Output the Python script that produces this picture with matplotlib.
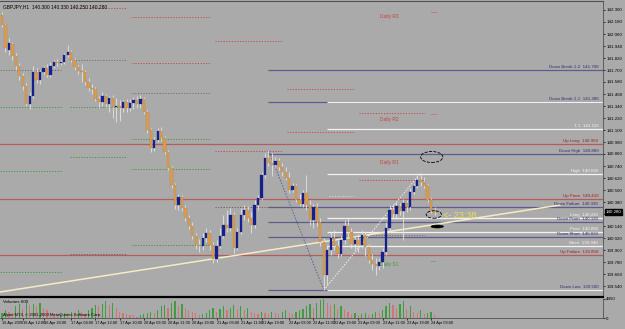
import matplotlib
matplotlib.use("Agg")
import matplotlib.pyplot as plt
from matplotlib.patches import Ellipse
import matplotlib.transforms as mtransforms
import numpy as np

plt.rcParams["font.family"] = ["Liberation Sans", "DejaVu Sans"]

# GBPJPY H1 bars (16 Apr 2009 -> 24 Apr 2009)
opens = [142.25, 142.15, 141.90, 141.96, 141.84, 141.74, 141.64, 141.54, 141.36, 141.44,
         141.68, 141.60, 141.68, 141.72, 141.65, 141.74, 141.78, 141.77, 141.78, 141.85,
         141.88, 141.80, 141.73, 141.69, 141.68, 141.58, 141.52, 141.51, 141.41, 141.38,
         141.44, 141.36, 141.42, 141.33, 141.34, 141.32, 141.38, 141.32, 141.37, 141.40,
         141.36, 141.41, 141.28, 141.10, 140.92, 141.00, 141.09, 141.02, 140.88, 140.72,
         140.55, 140.35, 140.43, 140.32, 140.22, 140.14, 140.04, 139.95, 139.94, 140.02,
         140.07, 139.95, 139.81, 139.94, 140.04, 140.15, 140.12, 140.25, 139.92, 140.08,
         140.25, 140.30, 140.22, 140.15, 140.35, 140.42, 140.65, 140.82, 140.77, 140.75,
         140.79, 140.73, 140.68, 140.62, 140.50, 140.54, 140.40, 140.36, 140.47, 140.35,
         140.20, 140.33, 140.18, 139.98, 139.65, 139.90, 140.02, 139.94, 139.86, 140.00,
         140.14, 140.08, 139.96, 140.00, 139.95, 140.05, 139.93, 139.80, 139.76, 139.74,
         139.78, 139.88, 140.12, 140.30, 140.26, 140.34, 140.29, 140.37, 140.33, 140.48,
         140.54, 140.60, 140.58, 140.54, 140.40, 140.30]
highs = [142.28, 142.16, 142.02, 141.98, 141.87, 141.77, 141.67, 141.57, 141.48, 141.74,
         141.72, 141.70, 141.74, 141.76, 141.78, 141.80, 141.81, 141.80, 141.87, 141.95,
         141.90, 141.82, 141.75, 141.76, 141.70, 141.62, 141.56, 141.53, 141.44, 141.48,
         141.46, 141.44, 141.45, 141.42, 141.40, 141.40, 141.41, 141.41, 141.43, 141.44,
         141.45, 141.43, 141.30, 141.12, 141.03, 141.12, 141.13, 141.04, 140.90, 140.74,
         140.57, 140.46, 140.45, 140.35, 140.25, 140.18, 140.07, 140.01, 140.07, 140.12,
         140.10, 139.98, 140.00, 140.12, 140.25, 140.30, 140.32, 140.28, 140.12, 140.32,
         140.35, 140.34, 140.28, 140.40, 140.45, 140.68, 140.87, 140.90, 140.87, 140.83,
         140.82, 140.77, 140.73, 140.68, 140.57, 140.56, 140.46, 140.50, 140.65, 140.40,
         140.36, 140.37, 140.22, 140.02, 139.95, 140.08, 140.10, 140.00, 140.04, 140.20,
         140.22, 140.12, 140.04, 140.06, 140.10, 140.08, 139.96, 139.86, 139.82, 139.82,
         139.92, 140.18, 140.35, 140.36, 140.38, 140.37, 140.41, 140.40, 140.52, 140.57,
         140.64, 140.67, 140.63, 140.56, 140.42, 140.33]
lows = [142.13, 141.88, 141.85, 141.80, 141.70, 141.60, 141.50, 141.34, 141.31, 141.42,
        141.57, 141.56, 141.66, 141.63, 141.63, 141.72, 141.74, 141.75, 141.76, 141.83,
        141.78, 141.70, 141.66, 141.58, 141.55, 141.49, 141.46, 141.39, 141.32, 141.34,
        141.33, 141.28, 141.22, 141.18, 141.19, 141.28, 141.28, 141.29, 141.31, 141.32,
        141.32, 141.26, 141.07, 140.88, 140.89, 140.98, 140.99, 140.86, 140.70, 140.52,
        140.31, 140.30, 140.29, 140.19, 140.11, 140.01, 139.91, 139.88, 139.90, 139.98,
        139.90, 139.77, 139.78, 139.92, 140.02, 140.08, 140.09, 139.87, 139.90, 140.06,
        140.20, 140.18, 140.07, 140.12, 140.30, 140.40, 140.62, 140.74, 140.64, 140.73,
        140.70, 140.64, 140.60, 140.47, 140.48, 140.38, 140.34, 140.33, 140.30, 140.15,
        140.12, 140.14, 139.94, 139.50, 139.55, 139.85, 139.90, 139.82, 139.84, 139.96,
        140.04, 139.92, 139.90, 139.88, 139.92, 139.84, 139.77, 139.70, 139.65, 139.70,
        139.72, 139.85, 140.08, 140.22, 140.22, 140.25, 140.00, 140.28, 140.30, 140.46,
        140.52, 140.54, 140.52, 140.38, 140.27, 140.25]
closes = [142.15, 141.92, 141.97, 141.84, 141.74, 141.64, 141.54, 141.36, 141.44, 141.68,
          141.60, 141.68, 141.72, 141.65, 141.74, 141.78, 141.77, 141.78, 141.85, 141.88,
          141.80, 141.73, 141.69, 141.68, 141.58, 141.52, 141.51, 141.41, 141.38, 141.44,
          141.36, 141.42, 141.33, 141.34, 141.32, 141.38, 141.32, 141.37, 141.40, 141.36,
          141.41, 141.28, 141.10, 140.92, 141.00, 141.09, 141.02, 140.88, 140.72, 140.55,
          140.35, 140.43, 140.32, 140.22, 140.14, 140.04, 139.95, 139.94, 140.02, 140.07,
          139.95, 139.81, 139.94, 140.04, 140.15, 140.12, 140.25, 139.92, 140.08, 140.25,
          140.30, 140.22, 140.15, 140.35, 140.42, 140.65, 140.82, 140.77, 140.75, 140.79,
          140.73, 140.68, 140.62, 140.50, 140.54, 140.40, 140.36, 140.47, 140.35, 140.20,
          140.33, 140.18, 139.98, 139.65, 139.90, 140.02, 139.94, 139.86, 140.00, 140.14,
          140.08, 139.96, 140.00, 139.95, 140.05, 139.93, 139.80, 139.76, 139.74, 139.78,
          139.88, 140.12, 140.30, 140.26, 140.34, 140.29, 140.37, 140.33, 140.48, 140.54,
          140.60, 140.58, 140.54, 140.40, 140.30, 140.28]
volumes = [1200, 1800, 1500, 1200, 2700, 3300, 2100, 3600, 3000, 3300,
           2700, 3600, 2400, 1800, 1200, 900, 600, 900, 1200, 900,
           1500, 1200, 1800, 1500, 900, 1800, 2400, 3000, 2700, 3300,
           3900, 3000, 3600, 2400, 1500, 1200, 900, 600, 600, 300,
           600, 900, 1200, 1500, 1200, 1800, 2700, 3000, 2400, 3600,
           3900, 2700, 3300, 2400, 1800, 1500, 1200, 600, 900, 1200,
           1800, 2400, 1500, 2100, 2700, 1800, 2400, 3000, 2100, 2700,
           1800, 2400, 1500, 1200, 900, 1500, 1200, 900, 1500, 1200,
           900, 1500, 1800, 1200, 900, 1500, 1800, 2100, 2700, 3300,
           2400, 3600, 4200, 4400, 3600, 3000, 3300, 2100, 2700, 1800,
           1500, 900, 1200, 600, 900, 1200, 600, 900, 1500, 1200,
           1800, 2700, 3600, 3000, 2400, 3300, 3900, 2100, 2700, 1500,
           1200, 1800, 900, 1200, 1500, 600]

time_labels = ["16 Apr 2009", "16 Apr 12:00", "16 Apr 20:00", "17 Apr 04:00", "17 Apr 12:00",
               "17 Apr 20:00", "20 Apr 03:00", "20 Apr 11:00", "20 Apr 19:00", "21 Apr 03:00",
               "21 Apr 11:00", "21 Apr 19:00", "22 Apr 03:00", "22 Apr 11:00", "22 Apr 19:00",
               "23 Apr 03:00", "23 Apr 11:00", "23 Apr 19:00", "24 Apr 03:00"]
time_label_bars = [0, 6, 12, 20, 27, 34, 41, 48, 55, 62, 69, 75, 83, 90, 96, 103, 110, 117, 124]

# levels drawn by the indicator
level_names = ["Down Break 1-2", "Down Break 1-1", "T-1", "Up Long", "Down High", "High",
               "Up Prom", "Down Failure", "Long", "Down Prom", "Pivot", "Down Short",
               "Short", "Up Failure", "Down Low"]
level_prices = [141.70, 141.38, 141.11, 140.96, 140.86, 140.66, 140.41, 140.33, 140.22,
                140.18, 140.08, 140.03, 139.94, 139.85, 139.50]
level_kinds = ["down", "down", "mid", "up", "down", "mid", "up", "down", "mid", "down",
               "mid", "down", "mid", "up", "down"]

# daily pivot segments: (first bar, last bar, price, kind)
pivot_segments = [
    (-0.6, 17.3, 141.70, "p"), (-0.6, 17.3, 141.33, "s"), (-0.6, 17.3, 140.69, "s"), (-0.6, 17.3, 139.68, "s"),
    (19.7, 36.1, 142.32, "r"), (19.7, 36.1, 141.80, "p"), (19.7, 36.1, 141.33, "s"), (19.7, 36.1, 140.83, "s"),
    (19.7, 36.1, 139.86, "d"),
    (37.6, 60.1, 142.23, "r"), (37.6, 60.1, 141.77, "r"), (37.6, 60.1, 141.47, "p"), (37.6, 60.1, 141.01, "s"),
    (37.6, 60.1, 140.71, "s"), (37.6, 60.1, 139.95, "s"),
    (61.6, 80.9, 141.99, "r"), (61.6, 80.9, 140.89, "r"), (61.6, 80.9, 140.33, "d"),
    (82.4, 101.7, 141.51, "r"), (82.4, 101.7, 141.08, "r"), (94.5, 101.7, 140.44, "w"),
    (103.2, 122.3, 141.27, "r"), (103.2, 122.3, 140.60, "r"), (103.2, 122.3, 140.05, "p"),
    (124.0, 125.8, 142.28, "r"), (124.0, 125.8, 141.26, "r"), (124.0, 125.2, 139.79, "s"),
]
daily_names = ["Daily R3", "Daily R2", "Daily R1", "Daily S1"]
daily_prices = [142.26, 141.23, 140.80, 139.78]

trend_bars = [-0.6, 161.3]
trend_prices = [139.48, 140.35]

BG = "#aaaaaa"
BULL = "#16208c"
BEAR = "#dc9c4c"
WICK = "#e4e4e4"
SLATE = "#5c5c8e"
RED = "#b45c5c"
WHITE = "#f2f2f2"
FS = 3.2

fig = plt.figure(figsize=(6.25, 3.29), dpi=100, facecolor=BG)
ax = fig.add_axes([0, 1 - 297 / 329, 603 / 625, 296 / 329], facecolor=BG)
vax = fig.add_axes([0, 1 - 318 / 329, 603 / 625, 19 / 329], facecolor=BG, sharex=ax)

x = np.arange(len(closes))
o = np.array(opens)
c = np.array(closes)
bull = c >= o

# candles
ax.vlines(x, lows, highs, color=WICK, lw=0.6, zorder=4)
body_lo = np.minimum(o, c)
body_h = np.maximum(np.abs(c - o), 0.006)
ax.bar(x[bull], body_h[bull], bottom=body_lo[bull], width=0.68, color=BULL,
       edgecolor=BULL, linewidth=0.2, zorder=5)
ax.bar(x[~bull], body_h[~bull], bottom=body_lo[~bull], width=0.68, color=BEAR,
       edgecolor="#b87a30", linewidth=0.2, zorder=5)

x_end = 174
slate_start = 77
white_start = 94
label_x = 172.3
for name, price, kind in zip(level_names, level_prices, level_kinds):
    if kind == "up":
        ax.hlines(price, -1, x_end, color=RED, lw=0.9, zorder=2)
        lc = "#a01c1c"
    elif kind == "down":
        ax.hlines(price, slate_start, x_end, color=SLATE, lw=0.9, zorder=2)
        lc = "#2e2e6e"
    else:
        ax.hlines(price, white_start, x_end, color=WHITE, lw=0.9, zorder=2)
        lc = "#f6f6f6"
    ax.annotate(f"{name}  {price:.3f}", xy=(label_x, price), xytext=(0, 0.4),
                textcoords="offset points", ha="right", va="bottom", fontsize=FS,
                color=lc, zorder=6)
# the two slate levels continue in white after the low
for price in (level_prices[1], level_prices[-1]):
    ax.hlines(price, white_start, x_end, color=WHITE, lw=0.9, zorder=2)

seg_colors = {"r": "#c84848", "s": "#3c9a3c", "p": "#707070", "d": "#7a5a4a", "w": "#d8d8d8"}
for b0, b1, price, kind in pivot_segments:
    ax.hlines(price, b0, b1, color=seg_colors[kind], lw=0.7, linestyles=(0, (1.2, 1.6)), zorder=2)
for name, price in zip(daily_names, daily_prices):
    col = "#3c9a3c" if "S" in name.split()[-1] else "#c84040"
    ax.text(112, price, name, fontsize=FS + 0.3, color=col, ha="center", va="top", zorder=3)

# trend line and zigzag
ax.plot(trend_bars, trend_prices, color="#f4ecc4", lw=1.1, zorder=3)
ax.plot([77, 93], [highs[77], lows[93]], color=SLATE, lw=0.7, ls=(0, (1.5, 1.5)), zorder=3)
ax.plot([93, 121], [lows[93], highs[121]], color=WHITE, lw=0.7, ls=(0, (1.5, 1.5)), zorder=3)

# hand drawn marks
ax.add_patch(Ellipse((124.2, 140.83), 6.4, 0.11, fill=False, ec="black", lw=0.6, ls="--", zorder=7))
ax.add_patch(Ellipse((124.8, 140.255), 4.4, 0.075, fill=False, ec="black", lw=0.6, ls="--", zorder=7))
ax.add_patch(Ellipse((125.8, 140.135), 3.6, 0.03, fc="black", ec="black", lw=0.4, zorder=7))
ax.text(127.6, 140.25, "<- 23:38", fontsize=6.5, color="#e8e060", ha="left", va="center", zorder=7)

# price scale
ticks = np.round(142.30 - 0.12 * np.arange(24), 2)
ax.set_ylim(139.43, 142.39)
ax.set_xlim(-0.58, 173.7)
ax.yaxis.tick_right()
ax.set_yticks(ticks)
ax.set_yticklabels([f"{t:.3f}" for t in ticks])
ax.tick_params(axis="y", length=1.5, width=0.5, labelsize=FS, pad=0.8, colors="black")
ax.tick_params(axis="x", bottom=False, labelbottom=False)
ax.spines["left"].set_visible(False)
ax.spines["top"].set_color("#505050")
ax.spines["right"].set_color("#505050")
ax.spines["right"].set_linewidth(0.6)
ax.spines["bottom"].set_color("black")
ax.spines["bottom"].set_linewidth(1.6)

last = len(closes) - 1
trans = mtransforms.blended_transform_factory(ax.transAxes, ax.transData)
ax.text(1.004, closes[last], f"{closes[last]:.3f}", transform=trans, fontsize=FS,
        color="white", ha="left", va="center", clip_on=False, zorder=8,
        bbox=dict(boxstyle="square,pad=0.15", fc="black", ec="black"))

ax.text(3 / 603, 1 - 3 / 296,
        f"GBPJPY,H1  {opens[last]:.3f} {highs[last]:.3f} {lows[last]:.3f} {closes[last]:.3f}",
        transform=ax.transAxes, fontsize=FS + 0.3, color="black", ha="left", va="top")

# volumes
vcol = ["#3f9c3f"] + ["#3f9c3f" if volumes[i] > volumes[i - 1] else "#d27474"
                      for i in range(1, len(volumes))]
vax.bar(x, volumes, width=0.35, color=vcol, zorder=3)
vax.set_ylim(0, 4450)
vax.yaxis.tick_right()
vax.set_yticks([0, 4450])
vax.set_yticklabels(["0", "4450"])
vax.tick_params(axis="y", length=1.5, width=0.5, labelsize=FS, pad=0.8)
vax.set_xticks(time_label_bars)
vax.set_xticklabels(time_labels, fontsize=2.8, ha="left")
vax.tick_params(axis="x", length=1.5, width=0.5, pad=0.8)
vax.spines["left"].set_visible(False)
vax.spines["top"].set_visible(False)
vax.spines["right"].set_color("#505050")
vax.spines["right"].set_linewidth(0.6)
vax.spines["bottom"].set_color("#505050")
vax.spines["bottom"].set_linewidth(0.6)
vax.text(3 / 603, 0.95, f"Volumes {volumes[last]}", transform=vax.transAxes, fontsize=FS,
         ha="left", va="top")
vax.text(3 / 603, 0.05, "Alpari MT4, \u00a9 2001-2009 MetaQuotes Software Corp.",
         transform=vax.transAxes, fontsize=FS - 0.2, ha="left", va="bottom", zorder=5)

fig.savefig("out.png", dpi=100, facecolor=BG)
